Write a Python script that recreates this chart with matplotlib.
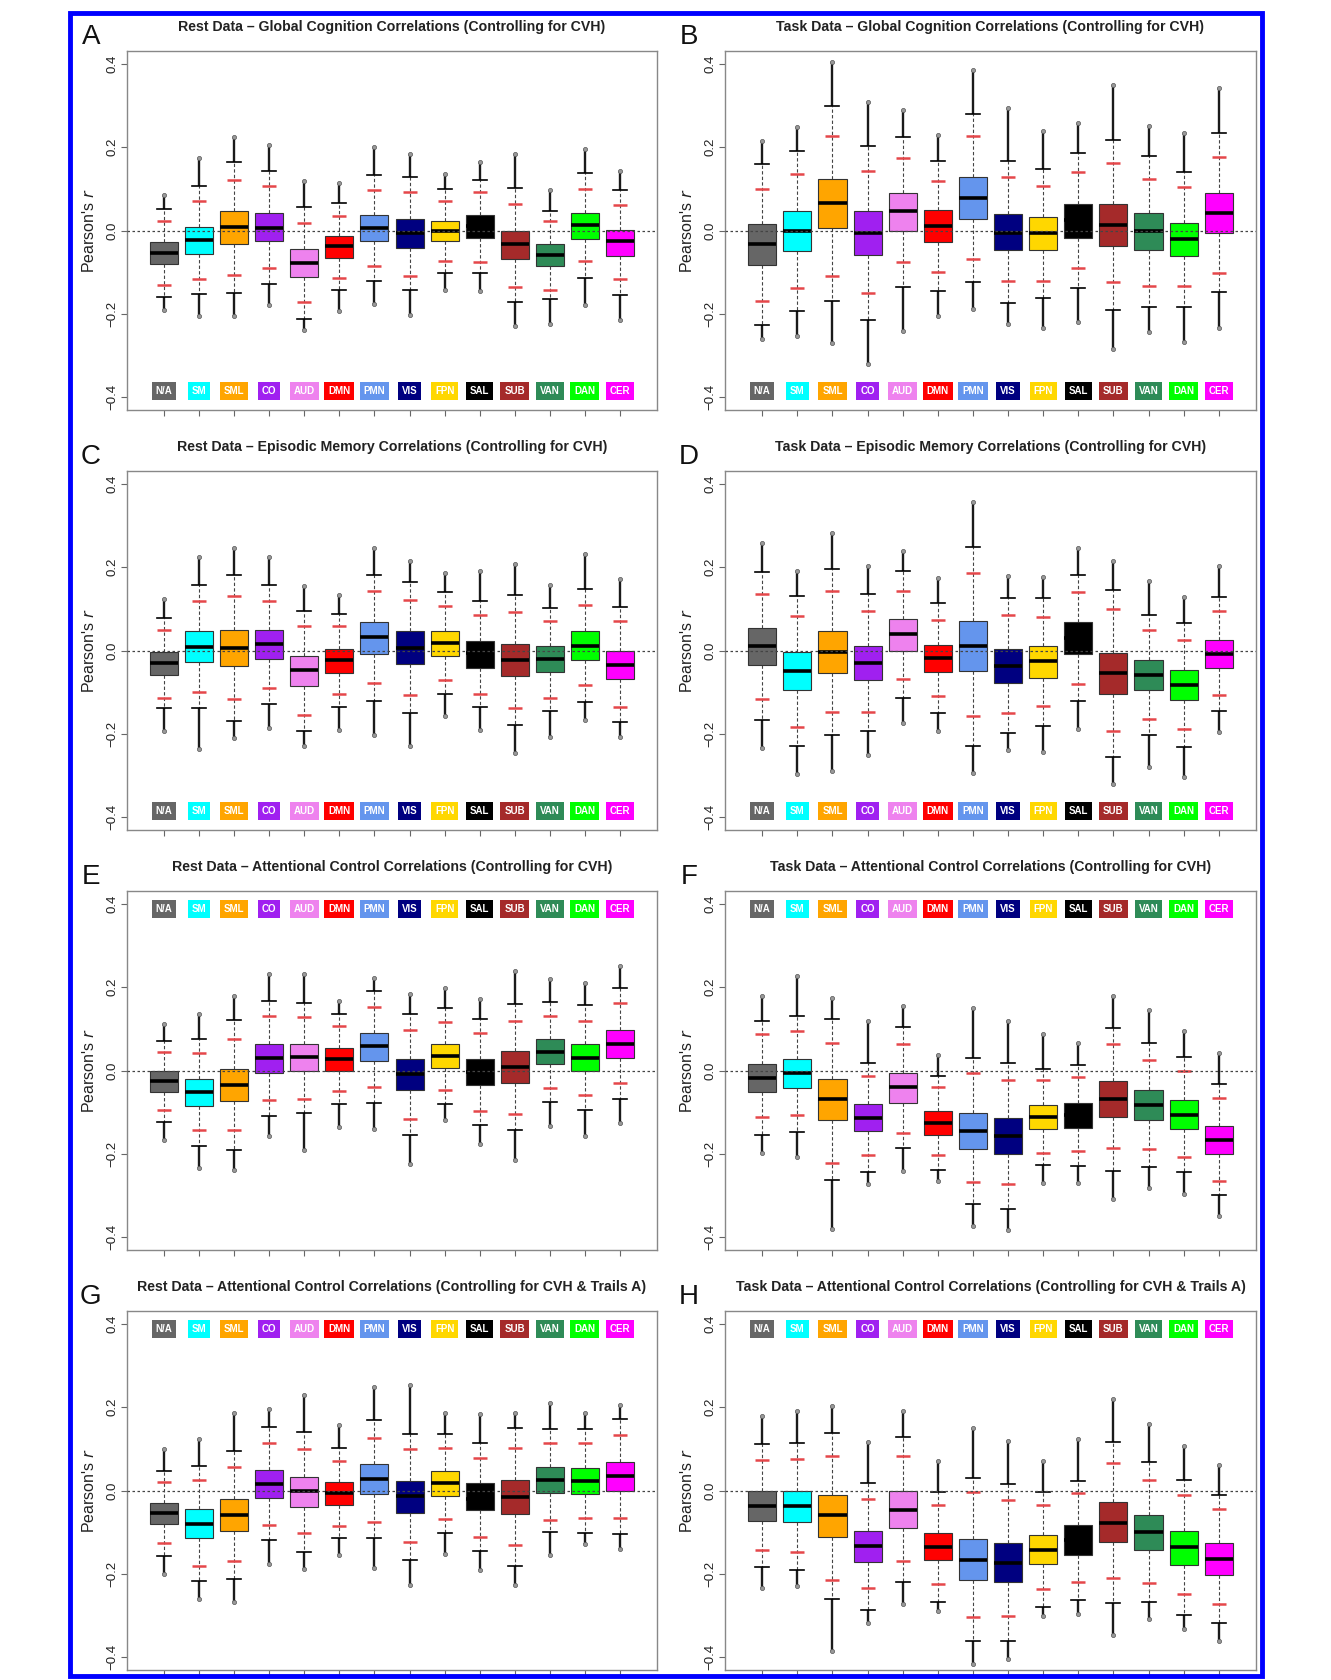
"""
네트워크별 상관 분포 박스플롯 (8 패널) 재현.
"""
import matplotlib
matplotlib.use('Agg')
import matplotlib.pyplot as plt
from matplotlib.patches import Rectangle
import numpy as np

plt.rcParams['font.family'] = ['Liberation Sans', 'DejaVu Sans']

NETWORKS = ['N/A', 'SM', 'SML', 'CO', 'AUD', 'DMN', 'PMN', 'VIS',
            'FPN', 'SAL', 'SUB', 'VAN', 'DAN', 'CER']
NET_COLORS = ['#666666', '#00FFFF', '#FFA500', '#A020F0', '#EE82EE', '#FF0000',
              '#6495ED', '#000080', '#FFD700', '#000000', '#A52A2A', '#2E8B57',
              '#00FF00', '#FF00FF']
YTICKS = [-0.4, -0.2, 0.0, 0.2, 0.4]
YTICK_LABELS = ['\u22120.4', '\u22120.2', '0.0', '0.2', '0.4']

# ---- panel A: rest, global cognition
a_q1 = [-0.081, -0.056, -0.032, -0.026, -0.112, -0.065, -0.026, -0.041, -0.026, -0.018, -0.069, -0.086, -0.020, -0.061]
a_med = [-0.053, -0.022, 0.009, 0.007, -0.078, -0.038, 0.006, -0.005, 0.000, 0.010, -0.033, -0.060, 0.014, -0.026]
a_q3 = [-0.028, 0.009, 0.047, 0.042, -0.045, -0.013, 0.038, 0.027, 0.024, 0.038, -0.001, -0.033, 0.043, 0.002]
a_rlo = [-0.130, -0.117, -0.106, -0.090, -0.172, -0.114, -0.085, -0.110, -0.073, -0.076, -0.136, -0.142, -0.074, -0.117]
a_rhi = [0.022, 0.071, 0.121, 0.107, 0.018, 0.035, 0.098, 0.092, 0.071, 0.092, 0.063, 0.022, 0.100, 0.062]
a_min = [-0.190, -0.205, -0.206, -0.178, -0.240, -0.194, -0.176, -0.202, -0.144, -0.146, -0.229, -0.224, -0.178, -0.216]
a_max = [0.086, 0.175, 0.224, 0.206, 0.118, 0.115, 0.200, 0.183, 0.136, 0.164, 0.184, 0.098, 0.195, 0.142]

# ---- panel B: task, global cognition
b_q1 = [-0.082, -0.050, 0.007, -0.058, 0.000, -0.028, 0.027, -0.046, -0.046, -0.017, -0.038, -0.048, -0.062, -0.005]
b_med = [-0.033, -0.002, 0.067, -0.006, 0.046, 0.010, 0.077, -0.005, -0.006, 0.025, 0.014, 0.000, -0.021, 0.042]
b_q3 = [0.015, 0.046, 0.124, 0.046, 0.090, 0.050, 0.128, 0.039, 0.032, 0.064, 0.064, 0.043, 0.019, 0.091]
b_rlo = [-0.170, -0.138, -0.110, -0.150, -0.076, -0.100, -0.069, -0.121, -0.121, -0.089, -0.124, -0.134, -0.134, -0.102]
b_rhi = [0.099, 0.135, 0.227, 0.143, 0.175, 0.118, 0.228, 0.128, 0.106, 0.140, 0.162, 0.123, 0.104, 0.176]
b_min = [-0.262, -0.254, -0.270, -0.320, -0.242, -0.206, -0.189, -0.224, -0.234, -0.221, -0.286, -0.245, -0.268, -0.234]
b_max = [0.215, 0.250, 0.405, 0.310, 0.290, 0.230, 0.386, 0.295, 0.238, 0.258, 0.350, 0.251, 0.234, 0.342]

# ---- panel C: rest, episodic memory
c_q1 = [-0.058, -0.028, -0.038, -0.021, -0.085, -0.053, -0.008, -0.032, -0.013, -0.041, -0.062, -0.052, -0.022, -0.069]
c_med = [-0.030, 0.009, 0.005, 0.016, -0.048, -0.024, 0.032, 0.007, 0.019, -0.005, -0.022, -0.021, 0.012, -0.034]
c_q3 = [-0.004, 0.046, 0.050, 0.050, -0.013, 0.003, 0.068, 0.047, 0.048, 0.023, 0.016, 0.010, 0.046, 0.000]
c_rlo = [-0.114, -0.100, -0.117, -0.090, -0.154, -0.104, -0.078, -0.108, -0.070, -0.105, -0.138, -0.113, -0.083, -0.135]
c_rhi = [0.050, 0.120, 0.132, 0.118, 0.058, 0.060, 0.142, 0.122, 0.106, 0.085, 0.092, 0.071, 0.110, 0.070]
c_min = [-0.194, -0.236, -0.210, -0.186, -0.230, -0.190, -0.202, -0.229, -0.157, -0.190, -0.246, -0.208, -0.166, -0.209]
c_max = [0.123, 0.224, 0.246, 0.224, 0.155, 0.134, 0.247, 0.214, 0.186, 0.190, 0.207, 0.158, 0.232, 0.172]

# ---- panel D: task, episodic memory
d_q1 = [-0.034, -0.094, -0.054, -0.070, 0.000, -0.052, -0.050, -0.077, -0.066, -0.008, -0.105, -0.094, -0.120, -0.043]
d_med = [0.012, -0.049, -0.003, -0.029, 0.040, -0.018, 0.012, -0.038, -0.026, 0.030, -0.054, -0.058, -0.083, -0.008]
d_q3 = [0.055, -0.004, 0.046, 0.012, 0.076, 0.014, 0.070, 0.004, 0.011, 0.068, -0.005, -0.022, -0.046, 0.026]
d_rlo = [-0.117, -0.184, -0.148, -0.149, -0.069, -0.109, -0.158, -0.150, -0.134, -0.081, -0.194, -0.164, -0.189, -0.108]
d_rhi = [0.136, 0.083, 0.143, 0.094, 0.142, 0.074, 0.187, 0.085, 0.080, 0.141, 0.099, 0.049, 0.025, 0.094]
d_min = [-0.234, -0.296, -0.290, -0.252, -0.174, -0.194, -0.294, -0.238, -0.244, -0.189, -0.320, -0.280, -0.305, -0.197]
d_max = [0.258, 0.190, 0.283, 0.203, 0.240, 0.174, 0.358, 0.179, 0.176, 0.246, 0.215, 0.168, 0.128, 0.202]

# ---- panel E: rest, attentional control
e_q1 = [-0.051, -0.085, -0.074, -0.005, -0.002, 0.000, 0.023, -0.046, 0.006, -0.036, -0.030, 0.015, 0.000, 0.031]
e_med = [-0.026, -0.052, -0.035, 0.030, 0.032, 0.028, 0.058, -0.008, 0.034, -0.004, 0.008, 0.045, 0.031, 0.064]
e_q3 = [-0.002, -0.021, 0.004, 0.064, 0.064, 0.054, 0.090, 0.027, 0.064, 0.028, 0.046, 0.075, 0.063, 0.098]
e_rlo = [-0.096, -0.144, -0.144, -0.070, -0.068, -0.050, -0.039, -0.117, -0.047, -0.097, -0.105, -0.042, -0.058, -0.030]
e_rhi = [0.045, 0.041, 0.076, 0.132, 0.128, 0.107, 0.153, 0.097, 0.116, 0.090, 0.120, 0.130, 0.118, 0.162]
e_min = [-0.166, -0.234, -0.238, -0.158, -0.192, -0.136, -0.141, -0.224, -0.120, -0.177, -0.214, -0.133, -0.158, -0.126]
e_max = [0.112, 0.136, 0.179, 0.232, 0.231, 0.168, 0.222, 0.183, 0.198, 0.171, 0.240, 0.219, 0.211, 0.252]

# ---- panel F: task, attentional control
f_q1 = [-0.052, -0.043, -0.118, -0.146, -0.078, -0.154, -0.189, -0.201, -0.141, -0.139, -0.112, -0.120, -0.141, -0.200]
f_med = [-0.018, -0.006, -0.069, -0.114, -0.040, -0.126, -0.146, -0.158, -0.112, -0.108, -0.069, -0.083, -0.107, -0.166]
f_q3 = [0.016, 0.027, -0.021, -0.080, -0.005, -0.098, -0.101, -0.113, -0.083, -0.078, -0.026, -0.046, -0.072, -0.133]
f_rlo = [-0.112, -0.107, -0.222, -0.202, -0.150, -0.202, -0.267, -0.273, -0.198, -0.194, -0.186, -0.188, -0.208, -0.265]
f_rhi = [0.088, 0.096, 0.067, -0.013, 0.063, -0.040, -0.005, -0.024, -0.022, -0.016, 0.063, 0.025, -0.002, -0.065]
f_min = [-0.198, -0.208, -0.382, -0.274, -0.242, -0.266, -0.374, -0.384, -0.270, -0.270, -0.309, -0.282, -0.296, -0.350]
f_max = [0.179, 0.226, 0.174, 0.118, 0.155, 0.038, 0.150, 0.118, 0.088, 0.066, 0.179, 0.146, 0.094, 0.042]

# ---- panel G: rest, attentional control (+ Trails A)
g_q1 = [-0.081, -0.114, -0.097, -0.018, -0.040, -0.034, -0.008, -0.053, -0.013, -0.048, -0.057, -0.006, -0.008, -0.001]
g_med = [-0.054, -0.081, -0.058, 0.016, -0.001, -0.006, 0.028, -0.014, 0.017, -0.020, -0.016, 0.026, 0.024, 0.034]
g_q3 = [-0.030, -0.045, -0.020, 0.050, 0.032, 0.020, 0.063, 0.023, 0.047, 0.017, 0.026, 0.056, 0.054, 0.068]
g_rlo = [-0.126, -0.181, -0.170, -0.082, -0.102, -0.086, -0.076, -0.124, -0.068, -0.111, -0.132, -0.070, -0.065, -0.066]
g_rhi = [0.020, 0.026, 0.056, 0.114, 0.100, 0.071, 0.127, 0.099, 0.101, 0.078, 0.102, 0.115, 0.113, 0.134]
g_min = [-0.200, -0.262, -0.268, -0.176, -0.188, -0.154, -0.186, -0.226, -0.153, -0.190, -0.226, -0.154, -0.129, -0.140]
g_max = [0.100, 0.124, 0.186, 0.196, 0.230, 0.158, 0.250, 0.254, 0.186, 0.185, 0.186, 0.210, 0.186, 0.206]

# ---- panel H: task, attentional control (+ Trails A)
h_q1 = [-0.074, -0.076, -0.112, -0.173, -0.089, -0.168, -0.214, -0.220, -0.177, -0.156, -0.125, -0.142, -0.178, -0.204]
h_med = [-0.037, -0.038, -0.060, -0.134, -0.046, -0.135, -0.166, -0.174, -0.142, -0.120, -0.077, -0.100, -0.137, -0.164]
h_q3 = [0.000, 0.000, -0.012, -0.097, -0.002, -0.102, -0.116, -0.126, -0.108, -0.084, -0.028, -0.058, -0.097, -0.127]
h_rlo = [-0.142, -0.148, -0.214, -0.234, -0.169, -0.225, -0.303, -0.301, -0.237, -0.219, -0.210, -0.222, -0.248, -0.273]
h_rhi = [0.073, 0.076, 0.083, -0.021, 0.082, -0.034, -0.004, -0.022, -0.036, -0.006, 0.067, 0.025, -0.012, -0.044]
h_min = [-0.234, -0.230, -0.386, -0.318, -0.274, -0.289, -0.418, -0.406, -0.302, -0.297, -0.348, -0.309, -0.332, -0.362]
h_max = [0.178, 0.190, 0.202, 0.116, 0.190, 0.070, 0.150, 0.119, 0.072, 0.124, 0.220, 0.159, 0.107, 0.062]

PANELS = [
    ('A', 'Rest Data \u2013 Global Cognition Correlations (Controlling for CVH)',
     (a_q1, a_med, a_q3, a_rlo, a_rhi, a_min, a_max), 'bottom'),
    ('B', 'Task Data \u2013 Global Cognition Correlations (Controlling for CVH)',
     (b_q1, b_med, b_q3, b_rlo, b_rhi, b_min, b_max), 'bottom'),
    ('C', 'Rest Data \u2013 Episodic Memory Correlations (Controlling for CVH)',
     (c_q1, c_med, c_q3, c_rlo, c_rhi, c_min, c_max), 'bottom'),
    ('D', 'Task Data \u2013 Episodic Memory Correlations (Controlling for CVH)',
     (d_q1, d_med, d_q3, d_rlo, d_rhi, d_min, d_max), 'bottom'),
    ('E', 'Rest Data \u2013 Attentional Control Correlations (Controlling for CVH)',
     (e_q1, e_med, e_q3, e_rlo, e_rhi, e_min, e_max), 'top'),
    ('F', 'Task Data \u2013 Attentional Control Correlations (Controlling for CVH)',
     (f_q1, f_med, f_q3, f_rlo, f_rhi, f_min, f_max), 'top'),
    ('G', 'Rest Data \u2013 Attentional Control Correlations (Controlling for CVH & Trails A)',
     (g_q1, g_med, g_q3, g_rlo, g_rhi, g_min, g_max), 'top'),
    ('H', 'Task Data \u2013 Attentional Control Correlations (Controlling for CVH & Trails A)',
     (h_q1, h_med, h_q3, h_rlo, h_rhi, h_min, h_max), 'top'),
]

W, H = 1331, 1680
fig = plt.figure(figsize=(W / 100, H / 100), dpi=100)

# layout in pixels (from the reference)
COL_LEFT = [127, 725]
COL_W = [530, 531]
ZERO_Y = [230.5, 650.5, 1070.5, 1490.5]
HALF_H = 179.7


def draw_panel(ax, letter, title, data, label_side):
    q1, med, q3, rlo, rhi, vmin, vmax = [np.asarray(v) for v in data]
    pos = np.arange(1, len(NETWORKS) + 1)
    iqr = q3 - q1
    whishi = np.minimum(q3 + 1.5 * iqr, vmax)
    whislo = np.maximum(q1 - 1.5 * iqr, vmin)

    stats = []
    for i in range(len(NETWORKS)):
        fl = []
        if vmin[i] < whislo[i]:
            fl.append(vmin[i])
        if vmax[i] > whishi[i]:
            fl.append(vmax[i])
        stats.append(dict(med=med[i], q1=q1[i], q3=q3[i],
                          whislo=whislo[i], whishi=whishi[i], fliers=fl))

    # dense outlier columns
    ax.vlines(pos, whishi, vmax, color='#1a1a1a', lw=1.7, zorder=2)
    ax.vlines(pos, vmin, whislo, color='#1a1a1a', lw=1.7, zorder=2)

    bp = ax.bxp(stats, positions=pos, widths=0.8, capwidths=0.4,
                patch_artist=True, manage_ticks=False,
                boxprops=dict(edgecolor='#333333', linewidth=0.8),
                whiskerprops=dict(color='#444444', linewidth=0.8, linestyle=(0, (3, 2))),
                capprops=dict(color='black', linewidth=1.2),
                medianprops=dict(color='black', linewidth=2.6),
                flierprops=dict(marker='o', markersize=3.0, markerfacecolor='#999999',
                                markeredgecolor='#555555', markeredgewidth=0.5))
    for patch, col in zip(bp['boxes'], NET_COLORS):
        patch.set_facecolor(col)
        patch.set_zorder(3)
    for ln in bp['medians']:
        ln.set_zorder(4)

    # red reference marks
    ax.hlines(rhi, pos - 0.2, pos + 0.2, color='#E5474A', lw=1.8, zorder=4)
    ax.hlines(rlo, pos - 0.2, pos + 0.2, color='#E5474A', lw=1.8, zorder=4)

    ax.axhline(0, color='#444444', lw=0.9, ls=(0, (2, 2)), zorder=5)

    # network labels
    ly = -0.385 if label_side == 'bottom' else 0.388
    for x, name, col in zip(pos, NETWORKS, NET_COLORS):
        ax.text(x, ly, name, ha='center', va='center', color='white',
                fontsize=7, fontweight='bold', zorder=6,
                bbox=dict(boxstyle='square,pad=0.4', fc=col, ec='none'))

    ax.set_xlim(-0.06, 15.06)
    ax.set_ylim(-0.432, 0.432)
    ax.set_xticks(pos)
    ax.set_xticklabels([])
    ax.set_yticks(YTICKS)
    ax.set_yticklabels(YTICK_LABELS, rotation=90, va='center')
    ax.tick_params(axis='both', colors='#666666', length=4, width=0.8,
                   labelcolor='#222222', labelsize=9.5, pad=2)
    for sp in ax.spines.values():
        sp.set_color('#888888')
        sp.set_linewidth(1.0)
    ax.set_ylabel("Pearson's $r$", fontsize=11.5, labelpad=7, color='#222222')

    ax.annotate(title, xy=(0.5, 1.0), xycoords='axes fraction',
                xytext=(0, 17), textcoords='offset points',
                ha='center', va='center', fontsize=10.2, fontweight='bold', color='#222222')
    ax.annotate(letter, xy=(0.0, 1.0), xycoords='axes fraction',
                xytext=(-26, 10), textcoords='offset points',
                ha='center', va='center', fontsize=20, color='#111111')


for k, (letter, title, data, side) in enumerate(PANELS):
    row, col = divmod(k, 2)
    z = ZERO_Y[row]
    ax = fig.add_axes([COL_LEFT[col] / W, 1 - (z + HALF_H) / H,
                       COL_W[col] / W, 2 * HALF_H / H])
    draw_panel(ax, letter, title, data, side)

# blue frame
fig.patches.append(Rectangle((70 / W, 1 - 1676 / H), (1262 - 70) / W, (1676 - 13) / H,
                             transform=fig.transFigure, fill=False,
                             edgecolor='#0000FF', linewidth=3.5))

fig.savefig('out.png', dpi=100)
